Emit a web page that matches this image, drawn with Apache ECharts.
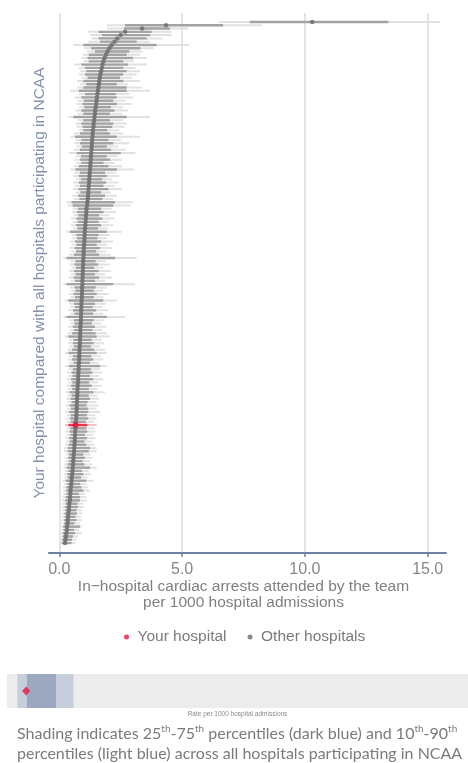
<!DOCTYPE html>
<html><head><meta charset="utf-8">
<script src="https://cdn.jsdelivr.net/npm/echarts@6/dist/echarts.min.js"></script>
<style>html,body{margin:0;padding:0;background:#fff}#c{width:468px;height:763px}</style>
</head><body><div id="c"></div>
<script>
// Point estimates, sorted high to low (one row per hospital)
const pointEst = [
10.3,4.35,3.37,2.68,2.50,2.36,2.25,2.13,2.04,1.96,
1.90,1.84,1.80,1.76,1.73,1.70,1.67,1.65,1.63,1.61,
1.59,1.57,1.55,1.53,1.52,1.50,1.48,1.46,1.45,1.43,
1.42,1.40,1.39,1.37,1.36,1.35,1.34,1.33,1.32,1.31,
1.30,1.29,1.28,1.27,1.26,1.25,1.24,1.23,1.22,1.21,
1.20,1.19,1.18,1.17,1.16,1.14,1.13,1.11,1.10,1.09,
1.08,1.07,1.06,1.05,1.04,1.03,1.03,1.02,1.01,1.00,
0.99,0.99,0.98,0.97,0.97,0.96,0.96,0.95,0.95,0.94,
0.94,0.93,0.93,0.92,0.92,0.91,0.90,0.90,0.89,0.89,
0.88,0.88,0.87,0.86,0.86,0.85,0.85,0.84,0.84,0.83,
0.82,0.82,0.81,0.81,0.80,0.79,0.79,0.78,0.77,0.77,
0.76,0.75,0.74,0.74,0.73,0.72,0.72,0.71,0.71,0.70,
0.70,0.69,0.68,0.66,0.66,0.65,0.64,0.63,0.63,0.62,
0.61,0.60,0.59,0.58,0.57,0.56,0.55,0.54,0.52,0.51,
0.50,0.49,0.47,0.46,0.45,0.44,0.43,0.41,0.40,0.39,
0.37,0.36,0.35,0.34,0.32,0.31,0.29,0.27,0.25,0.23];
const darkLow = [
7.75,2.68,2.63,1.60,1.74,1.60,1.66,0.98,1.30,1.45,
1.20,1.15,1.20,0.90,1.05,1.10,1.05,1.15,0.98,1.10,
0.98,0.80,1.05,0.90,1.00,0.95,1.02,0.90,0.98,0.57,
0.98,0.90,0.95,0.98,0.84,0.64,0.90,0.84,0.92,0.84,
0.71,0.88,0.84,0.90,0.80,0.66,0.84,0.80,0.88,0.80,
0.84,0.78,0.86,0.76,0.82,0.50,0.55,0.76,0.72,0.78,
0.70,0.75,0.68,0.74,0.44,0.70,0.72,0.64,0.70,0.62,
0.68,0.60,0.30,0.66,0.62,0.68,0.60,0.66,0.58,0.64,
0.30,0.62,0.66,0.58,0.64,0.37,0.60,0.64,0.56,0.62,
0.30,0.60,0.62,0.55,0.60,0.52,0.37,0.58,0.55,0.60,
0.52,0.37,0.56,0.52,0.58,0.40,0.55,0.50,0.54,0.48,
0.53,0.48,0.52,0.42,0.50,0.46,0.50,0.42,0.48,0.40,
0.47,0.44,0.47,0.37,0.45,0.42,0.45,0.40,0.43,0.38,
0.35,0.34,0.40,0.36,0.39,0.34,0.30,0.36,0.32,0.34,
0.26,0.32,0.28,0.28,0.29,0.26,0.24,0.26,0.23,0.24,
0.21,0.22,0.19,0.20,0.16,0.17,0.14,0.14,0.12,0.10];
const darkHigh = [
13.4,6.67,4.50,3.76,3.70,3.56,3.15,3.96,3.30,2.85,
2.74,3.00,2.61,2.80,2.61,2.74,2.60,2.47,2.61,2.34,
2.74,2.74,2.30,2.34,2.20,2.34,2.10,2.25,2.06,2.74,
2.06,2.20,2.15,1.95,2.06,2.34,2.00,2.20,1.93,2.10,
2.50,1.93,2.06,1.80,2.00,2.35,1.86,1.93,1.75,1.90,
1.80,2.00,1.70,1.86,1.75,2.27,2.20,1.70,1.80,1.62,
1.75,1.60,1.70,1.58,1.93,1.60,1.55,1.70,1.52,1.66,
1.50,1.62,2.27,1.48,1.58,1.42,1.60,1.45,1.62,1.45,
2.20,1.48,1.40,1.52,1.40,1.79,1.45,1.36,1.50,1.38,
1.93,1.40,1.32,1.45,1.35,1.48,1.52,1.32,1.40,1.28,
1.42,1.52,1.30,1.38,1.25,1.66,1.28,1.35,1.25,1.38,
1.22,1.32,1.20,1.39,1.20,1.25,1.15,1.11,1.18,1.18,
1.12,1.18,1.08,1.14,1.10,1.14,1.05,1.12,1.02,1.10,
1.25,1.20,0.98,1.04,0.95,1.02,1.25,0.92,0.98,0.88,
1.10,0.85,0.90,0.98,0.80,0.84,0.84,0.74,0.76,0.70,
0.72,0.66,0.70,0.62,0.84,0.60,0.64,0.55,0.52,0.50];
const lightLow = [
6.50,1.94,1.94,1.17,1.25,1.30,1.18,0.57,1.00,1.12,
0.95,0.90,0.98,0.60,0.80,0.85,0.80,0.90,0.72,0.85,
0.72,0.45,0.80,0.62,0.75,0.70,0.80,0.66,0.75,0.37,
0.75,0.66,0.70,0.78,0.60,0.45,0.66,0.60,0.70,0.60,
0.40,0.66,0.60,0.70,0.57,0.45,0.62,0.57,0.68,0.57,
0.62,0.55,0.66,0.52,0.60,0.30,0.35,0.55,0.50,0.58,
0.48,0.55,0.47,0.55,0.28,0.50,0.52,0.44,0.50,0.42,
0.48,0.40,0.16,0.46,0.42,0.50,0.40,0.46,0.38,0.45,
0.16,0.42,0.48,0.38,0.45,0.22,0.40,0.45,0.36,0.44,
0.16,0.40,0.44,0.36,0.42,0.34,0.22,0.40,0.36,0.42,
0.34,0.22,0.38,0.34,0.40,0.24,0.37,0.32,0.36,0.30,
0.36,0.30,0.35,0.26,0.33,0.29,0.34,0.26,0.32,0.24,
0.31,0.28,0.31,0.23,0.29,0.26,0.30,0.25,0.28,0.23,
0.20,0.19,0.26,0.22,0.25,0.20,0.17,0.22,0.19,0.21,
0.14,0.19,0.16,0.15,0.17,0.14,0.12,0.15,0.12,0.13,
0.11,0.12,0.09,0.10,0.07,0.08,0.06,0.06,0.05,0.04];
const lightHigh = [
15.5,8.25,5.24,4.57,4.57,4.20,3.70,5.30,3.85,3.40,
3.30,3.56,3.05,3.56,3.10,3.29,3.15,2.95,3.29,2.80,
3.35,3.69,2.85,3.01,2.70,2.95,2.60,2.80,2.55,3.69,
2.60,2.75,2.65,2.45,2.60,3.29,2.50,2.85,2.40,2.70,
3.10,2.40,2.55,2.25,2.55,3.04,2.30,2.45,2.15,2.40,
2.25,2.55,2.10,2.35,2.20,3.00,2.90,2.15,2.30,2.05,
2.25,2.00,2.20,1.98,2.54,2.05,1.95,2.20,1.95,2.15,
1.92,2.10,3.15,1.90,2.05,1.80,2.10,1.86,2.15,1.86,
3.08,1.93,1.78,2.00,1.80,2.34,1.90,1.75,1.98,1.78,
2.68,1.82,1.70,1.90,1.75,1.95,2.06,1.72,1.82,1.65,
1.86,1.93,1.70,1.80,1.62,1.93,1.66,1.76,1.62,1.80,
1.58,1.72,1.55,1.86,1.55,1.62,1.50,1.59,1.52,1.66,
1.46,1.52,1.42,1.52,1.44,1.48,1.38,1.46,1.34,1.44,
1.52,1.52,1.28,1.36,1.25,1.34,1.52,1.20,1.28,1.15,
1.40,1.12,1.18,1.25,1.05,1.10,1.12,0.98,1.00,0.92,
0.95,0.88,0.92,0.84,0.91,0.80,0.91,0.75,0.70,0.66];
const yourIndex = 123;
// percentiles across all hospitals: 10th, 25th, 75th, 90th
const stripPercentiles = [0.45, 0.68, 1.38, 1.80];

const FONT = 'Liberation Sans, Arial, sans-serif';
const nRows = pointEst.length;

function rows(lo, hi, mine) {
  const out = [];
  for (let i = 0; i < nRows; i++) {
    if ((i === yourIndex) === mine) out.push([lo[i], hi[i], i]);
  }
  return out;
}
function pts(mine) {
  const out = [];
  for (let i = 0; i < nRows; i++) {
    if ((i === yourIndex) === mine) out.push([pointEst[i], i]);
  }
  return out;
}
function barRenderer(color, h) {
  return function (params, api) {
    const a = api.coord([api.value(0), api.value(2)]);
    const b = api.coord([api.value(1), api.value(2)]);
    return { type: 'rect', shape: { x: a[0], y: a[1] - h / 2, width: b[0] - a[0], height: h }, style: { fill: color } };
  };
}
function barSeries(name, lo, hi, mine, color, h) {
  return { name, type: 'custom', xAxisIndex: 0, yAxisIndex: 0, renderItem: barRenderer(color, h),
    encode: { x: [0, 1], y: 2 }, data: rows(lo, hi, mine), silent: true, clip: false };
}

const chart = echarts.init(document.getElementById('c'), null, { renderer: 'canvas' });
chart.setOption({
  animation: false,
  textStyle: { fontFamily: FONT },
  grid: [
    { left: 59.3, right: 40.3, top: 13, bottom: 210 },
    { left: 7, right: 0, top: 674, height: 34, show: true, backgroundColor: '#ececec', borderWidth: 0 },
    { left: 49, right: 22, top: 13, bottom: 210 }
  ],
  xAxis: [
    { gridIndex: 0, type: 'value', min: 0, max: 15, interval: 5, position: 'bottom',
      axisLine: { show: false, onZero: false },
      axisTick: { show: true, length: 4, lineStyle: { color: '#6f80a6', width: 1.5 } },
      axisLabel: { color: '#878787', fontSize: 16, margin: 9, formatter: v => v.toFixed(1) },
      splitLine: { show: true, lineStyle: { color: '#dcdcdc', width: 1.5 } },
      name: 'In\u2212hospital cardiac arrests attended by the team\nper 1000 hospital admissions',
      nameLocation: 'middle', nameGap: 25, nameMoveOverlap: false,
      nameTextStyle: { color: '#808080', fontSize: 15.5, lineHeight: 16.5 } },
    { gridIndex: 1, type: 'value', min: 0.2, max: 11.3,
      axisLine: { show: false, onZero: false }, axisTick: { show: false }, axisLabel: { show: false }, splitLine: { show: false },
      name: 'Rate per 1000 hospital admissions', nameLocation: 'middle', nameGap: 3,
      nameTextStyle: { color: '#8a8a8a', fontSize: 6.5 } },
    { gridIndex: 2, type: 'value', min: 0, max: 1,
      axisLine: { show: true, onZero: false, lineStyle: { color: '#6f80a6', width: 2 } },
      axisTick: { show: false }, axisLabel: { show: false }, splitLine: { show: false } }
  ],
  yAxis: [
    { gridIndex: 0, type: 'value', inverse: true, min: -2.75, max: 162.05,
      axisLine: { show: false, onZero: false }, axisTick: { show: false }, axisLabel: { show: false }, splitLine: { show: false },
      name: 'Your hospital compared with all hospitals participating in NCAA',
      nameLocation: 'middle', nameGap: 12,
      nameTextStyle: { color: '#8591ab', fontSize: 15.5 } },
    { gridIndex: 1, type: 'value', min: 0, max: 1, show: false },
    { gridIndex: 2, type: 'value', min: 0, max: 1, show: false }
  ],
  legend: {
    data: [{ name: 'Your hospital', icon: 'circle' }, { name: 'Other hospitals', icon: 'circle' }],
    left: 119, top: 624, itemWidth: 12, itemHeight: 5, itemGap: 21,
    textStyle: { fontSize: 15.5, color: '#7a7a7a', fontFamily: FONT }
  },
  graphic: [{
    type: 'text', left: 17, top: 724,
    style: {
      text: 'Shading indicates 25{s|th}-75{s|th} percentiles (dark blue) and 10{s|th}-90{s|th}\npercentiles (light blue) across all hospitals participating in NCAA',
      fontFamily: 'Lato, sans-serif', fontSize: 16, lineHeight: 20, fill: '#7b7b7b',
      rich: { s: { fontFamily: 'Lato, sans-serif', fontSize: 10, fill: '#7b7b7b', verticalAlign: 'top', lineHeight: 20 } }
    }
  }],
  series: [
    barSeries('other-outer', lightLow, lightHigh, false, '#e1e1e1', 2),
    barSeries('other-inner', darkLow, darkHigh, false, '#a3a3a3', 2.4),
    barSeries('your-outer', lightLow, lightHigh, true, '#f7c0ca', 2),
    barSeries('your-inner', darkLow, darkHigh, true, '#ea3550', 2.6),
    { name: 'Other hospitals', type: 'scatter', xAxisIndex: 0, yAxisIndex: 0, data: pts(false),
      symbol: 'circle', symbolSize: 4.5, itemStyle: { color: '#6a6a6a' }, silent: true },
    { name: 'Your hospital', type: 'scatter', xAxisIndex: 0, yAxisIndex: 0, data: pts(true),
      symbol: 'circle', symbolSize: 6, itemStyle: { color: '#e4173d' }, silent: true, z: 5 },
    { name: 'strip', type: 'scatter', xAxisIndex: 1, yAxisIndex: 1,
      data: [[pointEst[yourIndex], 0.5]], symbol: 'diamond', symbolSize: [8, 9],
      itemStyle: { color: '#e4173d' }, silent: true, z: 5,
      markArea: { silent: true, data: [
        [{ xAxis: stripPercentiles[0], itemStyle: { color: '#c6cedb' } }, { xAxis: stripPercentiles[3] }],
        [{ xAxis: stripPercentiles[1], itemStyle: { color: '#9ca8bf' } }, { xAxis: stripPercentiles[2] }]
      ] } }
  ]
});
</script>
</body></html>
